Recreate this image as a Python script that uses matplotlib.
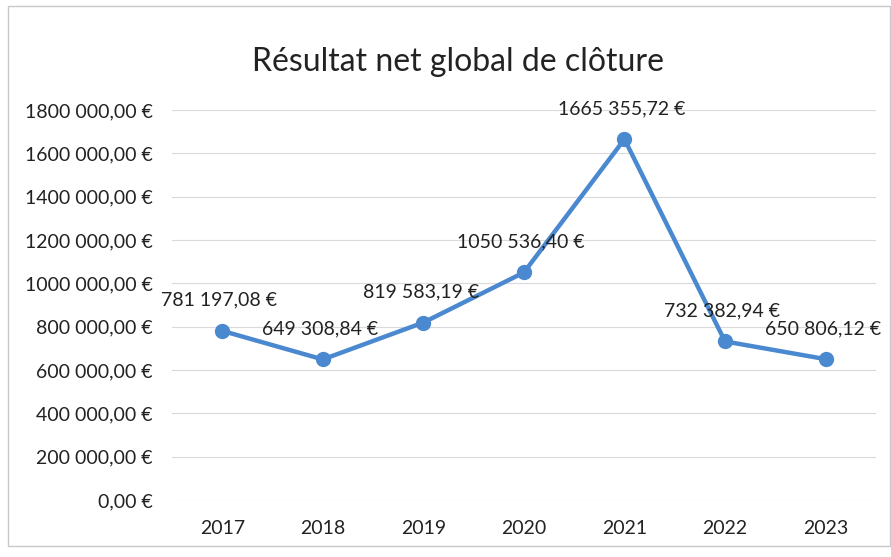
import matplotlib.pyplot as plt
from matplotlib.patches import Rectangle

years = ['2017', '2018', '2019', '2020', '2021', '2022', '2023']
resultat = [781197.08, 649308.84, 819583.19, 1050536.40, 1665355.72, 732382.94, 650806.12]
yticks = [0, 200000, 400000, 600000, 800000, 1000000, 1200000, 1400000, 1600000, 1800000]


def euro(v):
    # format francais : espace pour les milliers, virgule decimale
    ent, dec = ('%.2f' % v).split('.')
    if len(ent) > 3:
        ent = ent[:-3] + ' ' + ent[-3:]
    return ent + ',' + dec + ' €'


plt.rcParams['font.family'] = ['Lato', 'DejaVu Sans']
fig = plt.figure(figsize=(8.91, 5.57), dpi=100)
ax = fig.add_axes([0.193, 0.102, 0.79, 0.7005])

x = list(range(len(years)))
ax.plot(x, resultat, color='#4A89D0', linewidth=3.2, marker='o',
        markersize=10, zorder=3)
for xi, v in zip(x, resultat):
    ax.annotate(euro(v), (xi, v), xytext=(-2, 16), textcoords='offset points',
                ha='center', va='bottom', fontsize=14, color='#222222')

ax.set_xlim(-0.5, len(years) - 0.5)
ax.set_ylim(0, 1800000)
ax.set_yticks(yticks)
ax.set_yticklabels([euro(v) for v in yticks])
ax.set_xticks(x)
ax.set_xticklabels(years)
ax.tick_params(length=0, labelsize=14, colors='#222222')
ax.tick_params(axis='y', pad=14)
ax.tick_params(axis='x', pad=14)
ax.grid(axis='y', color='#dadada', linewidth=0.8)
ax.set_axisbelow(True)
for s in ax.spines.values():
    s.set_visible(False)

fig.text(0.514, 0.888, 'Résultat net global de clôture', ha='center',
         va='center', fontsize=23, color='#222222')
fig.patches.append(Rectangle((0.009, 0.02), 0.99, 0.97, transform=fig.transFigure,
                             fill=False, edgecolor='#c8c8c8', linewidth=1))

plt.savefig('out.png', dpi=100)
